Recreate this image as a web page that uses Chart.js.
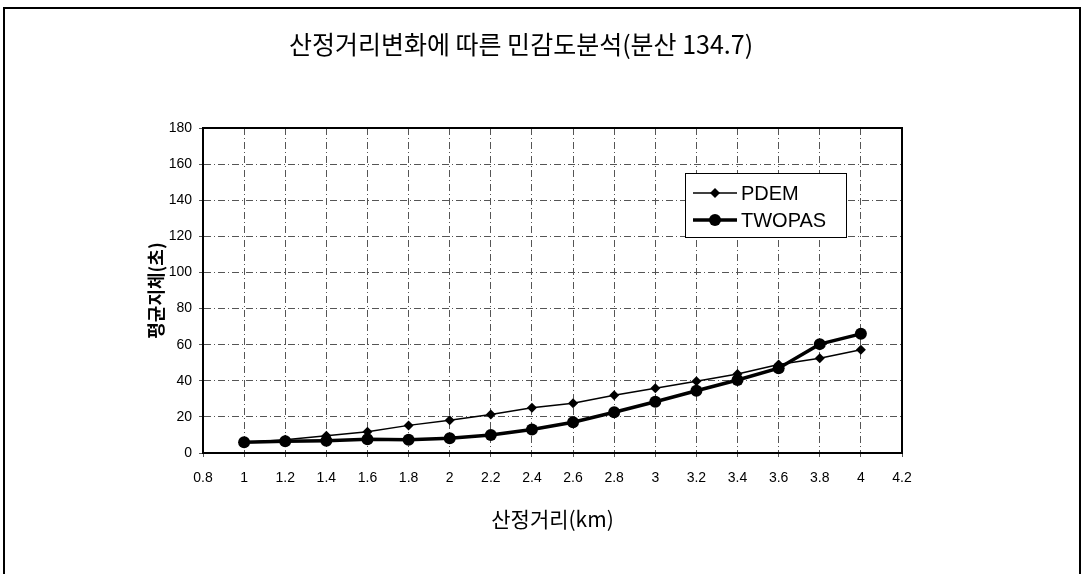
<!DOCTYPE html>
<html><head><meta charset="utf-8">
<script src="https://cdn.jsdelivr.net/npm/chart.js@4.4.0/dist/chart.umd.min.js"></script>
<style>
html,body{margin:0;padding:0;background:#fff;overflow:hidden;}
#frame{position:absolute;left:3px;top:7px;width:1074px;height:580px;border-left:2px solid #000;border-top:2px solid #000;border-right:2px solid #000;}
#wrap{position:absolute;left:0;top:0;width:1082px;height:574px;}
</style></head>
<body>
<div id="frame"></div>
<div id="wrap"><canvas id="c" width="1082" height="574"></canvas></div>
<script>
const titleText = "산정거리변화에 따른 민감도분석(분산 134.7)";
const xAxisTitle = "산정거리(km)";
const yAxisTitle = "평균지체(초)";
const distances = [1, 1.2, 1.4, 1.6, 1.8, 2, 2.2, 2.4, 2.6, 2.8, 3, 3.2, 3.4, 3.6, 3.8, 4];
const pdem   = [5.8, 7.3, 9.5, 11.8, 15.3, 18.2, 21.3, 25, 27.5, 32, 35.8, 39.8, 43.7, 49, 52.5, 57.2];
const twopas = [6, 6.5, 6.8, 7.6, 7.3, 8.2, 10, 13, 17, 22.6, 28.4, 34.5, 40.4, 47, 60.3, 66];
const seriesNames = ["PDEM", "TWOPAS"];
const xTickValues = [0.8, 1, 1.2, 1.4, 1.6, 1.8, 2, 2.2, 2.4, 2.6, 2.8, 3, 3.2, 3.4, 3.6, 3.8, 4, 4.2];
const xTickLabels = ["0.8","1","1.2","1.4","1.6","1.8","2","2.2","2.4","2.6","2.8","3","3.2","3.4","3.6","3.8","4","4.2"];
const yTickValues = [0, 20, 40, 60, 80, 100, 120, 140, 160, 180];

const latin = "'Liberation Sans', Arial, sans-serif";
const kor = "'Noto Sans CJK KR', 'Liberation Sans', sans-serif";

const toPts = (xs, ys) => xs.map((x, i) => ({x: x, y: ys[i]}));

const frameAndLegend = {
  id: 'frameAndLegend',
  afterDraw(chart) {
    const ctx = chart.ctx, a = chart.chartArea;
    ctx.save();
    ctx.strokeStyle = '#000'; ctx.lineWidth = 2; ctx.setLineDash([]);
    ctx.strokeRect(a.left, a.top, a.right - a.left, a.bottom - a.top);
    const bx = 685, by = 173, bw = 161, bh = 64;
    ctx.fillStyle = '#fff'; ctx.fillRect(bx, by, bw, bh);
    ctx.lineWidth = 1; ctx.strokeRect(bx + 0.5, by + 0.5, bw, bh);
    const ds = chart.data.datasets;
    const rows = [193, 220];
    ds.forEach((d, i) => {
      const y = rows[i];
      ctx.strokeStyle = '#000'; ctx.lineWidth = d.borderWidth;
      ctx.beginPath(); ctx.moveTo(693, y); ctx.lineTo(737, y); ctx.stroke();
      ctx.fillStyle = '#000';
      ctx.beginPath();
      if (d.pointStyle === 'rectRot') {
        const r = 5;
        ctx.moveTo(715, y - r); ctx.lineTo(715 + r, y); ctx.lineTo(715, y + r); ctx.lineTo(715 - r, y); ctx.closePath();
      } else {
        ctx.arc(715, y, 6, 0, Math.PI * 2);
      }
      ctx.fill();
      ctx.font = "20px " + latin;
      ctx.textBaseline = 'middle'; ctx.textAlign = 'left';
      ctx.fillText(d.label, 741, y + 1);
    });
    ctx.restore();
  }
};

new Chart(document.getElementById('c'), {
  type: 'line',
  data: {
    datasets: [
      { label: seriesNames[0], data: toPts(distances, pdem), borderColor: '#000', backgroundColor: '#000',
        borderWidth: 1.5, pointStyle: 'rectRot', pointRadius: 5, pointBorderWidth: 0, tension: 0 },
      { label: seriesNames[1], data: toPts(distances, twopas), borderColor: '#000', backgroundColor: '#000',
        borderWidth: 3.5, pointStyle: 'circle', pointRadius: 6, pointBorderWidth: 0, tension: 0 }
    ]
  },
  options: {
    responsive: false, animation: false,
    layout: { padding: { left: 140, right: 180, top: 0, bottom: 44 } },
    plugins: {
      legend: { display: false },
      tooltip: { enabled: false },
      title: { display: true, text: titleText, color: '#000',
        font: { family: kor, size: 25, weight: 'normal', lineHeight: 1.2 },
        padding: { top: 29, bottom: 69 } }
    },
    scales: {
      x: {
        type: 'linear', min: 0.8, max: 4.2,
        afterBuildTicks: s => { s.ticks = xTickValues.map(v => ({value: v})); },
        afterFit: s => { s.height = 77; },
        ticks: { color: '#000', font: { family: latin, size: 14 }, padding: 13, maxRotation: 0, autoSkip: false,
          callback: (v, i) => xTickLabels[i] },
        grid: { color: '#555', lineWidth: 1, tickLength: 4, drawTicks: true },
        border: { display: true, color: '#000', width: 2, dash: [7, 3, 1, 3] },
        title: { display: true, text: xAxisTitle, color: '#000',
          font: { family: kor, size: 21, lineHeight: 1 }, padding: { top: 0, bottom: 0 } }
      },
      y: {
        min: 0, max: 180,
        afterBuildTicks: s => { s.ticks = yTickValues.map(v => ({value: v})); },
        afterFit: s => { s.width = 63; },
        ticks: { color: '#000', font: { family: latin, size: 14 }, padding: 7 },
        grid: { color: '#555', lineWidth: 1, tickLength: 4 },
        border: { display: true, color: '#000', width: 2, dash: [7, 3, 1, 3] },
        title: { display: true, text: yAxisTitle, color: '#000',
          font: { family: kor, size: 18, weight: 'bold', lineHeight: 1 }, padding: { top: 7, bottom: 0 } }
      }
    }
  },
  plugins: [frameAndLegend]
});
</script>
</body></html>
